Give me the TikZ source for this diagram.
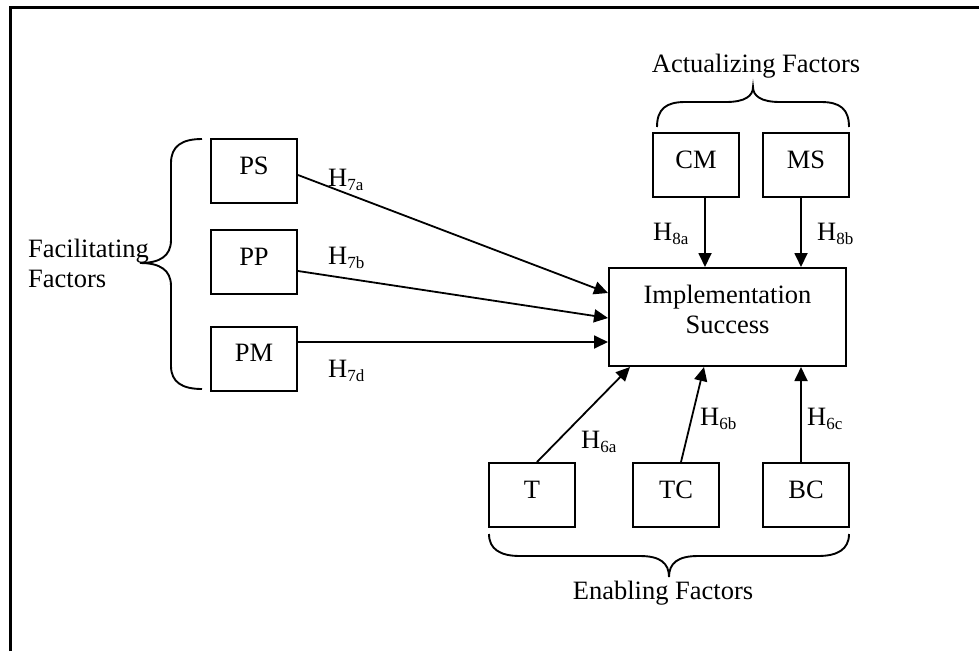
\documentclass[tikz,border=0pt]{standalone}
\usepackage{fontspec}
\setmainfont{Liberation Serif}
\usetikzlibrary{arrows.meta}
\newcommand\hlab[1]{H\raisebox{-4pt}{\fontsize{17}{17}\selectfont #1}}
\begin{document}
\begin{tikzpicture}[x=1pt,y=-1pt,
 box/.style={draw,line width=2pt,inner sep=0pt,minimum width=86pt,minimum height=64pt,
   text height=18pt,text depth=12pt,font=\fontsize{26.5}{30}\selectfont},
 arr/.style={line width=1.8pt,-{Triangle[length=14pt,width=13pt]}},
 lbl/.style={font=\fontsize{26.5}{30}\selectfont,inner sep=0pt},
 brace/.style={line width=1.9pt}]
\useasboundingbox (0,0) rectangle (979,651);
% frame
\draw[line width=3pt] (10,651) -- (10,7) -- (979,7);
% boxes
\node[box] (ps) at (254,171) {PS};
\node[box] (pp) at (254,262) {PP};
\node[box] (pm) at (254,358.5) {PM};
\node[box,minimum width=237pt,minimum height=98pt,align=center,text height=48pt,text depth=16pt] (impl) at (727.5,317) {Implementation\\Success};
\node[box] (cm) at (696,165) {CM};
\node[box] (ms) at (806,165) {MS};
\node[box] (t) at (532,495) {T};
\node[box] (tc) at (676,495) {TC};
\node[box] (bc) at (806,495) {BC};
% arrows
\draw[arr] ([yshift=-4pt]ps.east) -- ([yshift=24pt]impl.west);
\draw[arr] ([yshift=-9pt]pp.east) -- ([yshift=-1pt]impl.west);
\draw[arr] ([yshift=16.5pt]pm.east) -- ([yshift=-25pt]impl.west);
\draw[arr] ([xshift=9pt]cm.south) -- ([xshift=-22.5pt]impl.north);
\draw[arr] ([xshift=-5pt]ms.south) -- ([xshift=73.5pt]impl.north);
\draw[arr] ([xshift=5pt]t.north) -- ([xshift=-97.5pt]impl.south);
\draw[arr] ([xshift=5pt]tc.north) -- ([xshift=-23.5pt]impl.south);
\draw[arr] ([xshift=-5pt]bc.north) -- ([xshift=73.5pt]impl.south);
% labels
\node[lbl,anchor=base west] (h7a) at (328,186) {\hlab{7a}};
\node[lbl,anchor=base west] (h7b) at (328,264) {\hlab{7b}};
\node[lbl,anchor=base west] (h7d) at (328,377) {\hlab{7d}};
\node[lbl,anchor=base west] (h8a) at (653,240) {\hlab{8a}};
\node[lbl,anchor=base west] (h8b) at (817,240) {\hlab{8b}};
\node[lbl,anchor=base west] (h6a) at (581,448) {\hlab{6a}};
\node[lbl,anchor=base west] (h6b) at (700,425) {\hlab{6b}};
\node[lbl,anchor=base west] (h6c) at (807,425) {\hlab{6c}};
\node[lbl,anchor=base] (act) at (756,72) {Actualizing Factors};
\node[lbl,anchor=base] (ena) at (663,599) {Enabling Factors};
\node[lbl,anchor=base west,align=left] (fac) at (28,287) {Facilitating\\Factors};
% braces
\draw[brace] (202,139) .. controls (182,139) and (171,146) .. (171,163) -- (171,240)
  .. controls (171,256) and (160,263) .. (140,263)
  .. controls (160,263) and (171,270) .. (171,286) -- (171,366)
  .. controls (171,382) and (182,389) .. (202,389);
\draw[brace] (657,127) .. controls (657,109) and (666,102) .. (685,102) -- (726,102)
  .. controls (745,102) and (753,96) .. (753,87)
  .. controls (753,96) and (761,102) .. (780,102) -- (821,102)
  .. controls (840,102) and (849,109) .. (849,127);
\draw[brace] (489,534) .. controls (489,549) and (500,556) .. (520,556) -- (640,556)
  .. controls (660,556) and (669,563) .. (669,577)
  .. controls (669,563) and (678,556) .. (698,556) -- (818,556)
  .. controls (838,556) and (849,549) .. (849,534);
\end{tikzpicture}
\end{document}
